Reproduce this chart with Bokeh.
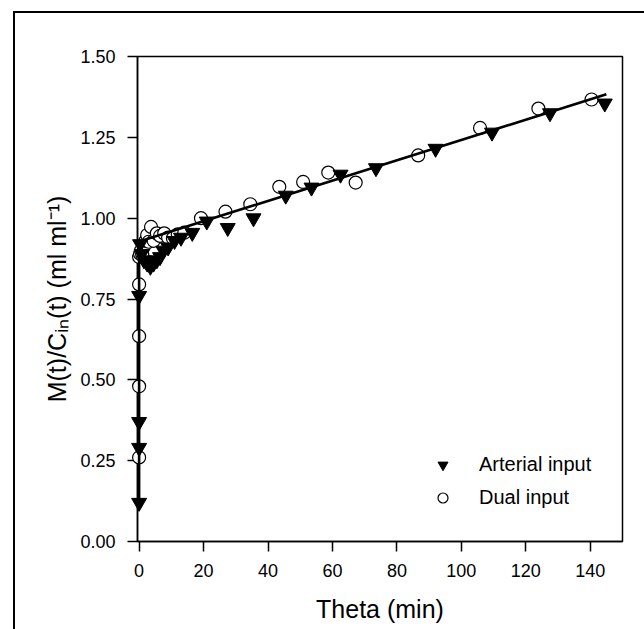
from bokeh.plotting import figure
from bokeh.models import (Range1d, FixedTicker, PrintfTickFormatter, Legend,
                          LegendItem, InlineStyleSheet)
from bokeh.embed import file_html
from bokeh.resources import INLINE

# ---- data ----
arterial_theta = [0, 0, 0, 0, 0.3, 0.8, 1.5, 2.5, 3.5, 4.5, 5.5, 6.5, 7.5, 9,
                  11, 13, 16.5, 21, 27.5, 35.5, 45.5, 53.5, 62.5, 73.5, 92,
                  109.5, 127.5, 144.5]
arterial_value = [0.12, 0.29, 0.37, 0.76, 0.92, 0.89, 0.87, 0.86, 0.85, 0.86,
                  0.87, 0.88, 0.90, 0.91, 0.93, 0.94, 0.955, 0.99, 0.97, 1.00,
                  1.07, 1.095, 1.135, 1.155, 1.215, 1.265, 1.325, 1.355]

dual_theta = [0, 0, 0, 0, 0, 0.3, 0.6, 1.0, 1.5, 2, 2.5, 3, 3.7, 4.5, 5.5, 6.5,
              7.8, 9, 10.5, 12, 14, 19.2, 26.8, 34.5, 43.5, 50.9, 58.7, 67.2,
              86.6, 105.8, 123.9, 140.4]
dual_value = [0.26, 0.48, 0.635, 0.795, 0.88, 0.89, 0.90, 0.885, 0.912, 0.93,
              0.948, 0.927, 0.973, 0.93, 0.953, 0.945, 0.953, 0.94, 0.938, 0.95,
              0.955, 1.0, 1.02, 1.043, 1.097, 1.112, 1.141, 1.11, 1.194, 1.279,
              1.339, 1.367]

fit_theta = [0, 0, 145]
fit_value = [0.12, 0.928, 1.383]

x_ticks = [0, 20, 40, 60, 80, 100, 120, 140]
y_ticks = [0.0, 0.25, 0.50, 0.75, 1.00, 1.25, 1.50]

x_title = "Theta (min)"
y_title = "M(t)/C\u1d62\u2099(t) (ml ml\u207b\u00b9)"
series_names = ["Arterial input", "Dual input"]

FONT = "Liberation Sans"

page_frame = InlineStyleSheet(css="""
:host::before {
  content: "";
  position: absolute;
  left: 13px;
  top: 11px;
  width: calc(100% - 13px);
  height: calc(100% - 11px);
  border-left: 2.5px solid black;
  border-top: 2.5px solid black;
  box-sizing: border-box;
  pointer-events: none;
  z-index: 10;
}
""")

p = figure(width=644, height=629, output_backend="svg", toolbar_location=None,
           x_range=Range1d(-0.5, 150), y_range=Range1d(0, 1.5),
           min_border_left=137, min_border_right=22,
           min_border_top=56, min_border_bottom=88)
p.stylesheets = [page_frame]

p.grid.visible = False
p.background_fill_color = "white"
p.border_fill_color = "white"
p.outline_line_color = "black"
p.outline_line_width = 1.5
p.outline_line_alpha = 1.0

p.xaxis.ticker = FixedTicker(ticks=x_ticks)
p.yaxis.ticker = FixedTicker(ticks=y_ticks)
p.yaxis.formatter = PrintfTickFormatter(format="%.2f")

for ax in (p.xaxis[0], p.yaxis[0]):
    ax.axis_line_color = "black"
    ax.axis_line_width = 1.5
    ax.major_tick_line_color = "black"
    ax.major_tick_line_width = 1.5
    ax.major_tick_out = 10
    ax.major_tick_in = 0
    ax.minor_tick_out = 0
    ax.minor_tick_in = 0
    ax.major_label_text_font = FONT
    ax.major_label_text_font_size = "18px"
    ax.major_label_text_color = "black"
    ax.axis_label_text_font = FONT
    ax.axis_label_text_font_size = "25px"
    ax.axis_label_text_font_style = "normal"
    ax.axis_label_text_color = "black"

p.xaxis.axis_label = x_title
p.yaxis.axis_label = y_title
p.xaxis.major_label_standoff = 12
p.xaxis.axis_label_standoff = 15
p.yaxis.major_label_standoff = 12
p.yaxis.axis_label_standoff = 6

circ = p.scatter(dual_theta, dual_value, marker="circle", size=13,
                 fill_color="white", line_color="black", line_width=1.2,
                 level="overlay")
p.line(fit_theta, fit_value, line_color="black", line_width=2.6, level="overlay")
tri = p.scatter(arterial_theta, arterial_value, marker="inverted_triangle",
                size=15, fill_color="black", line_color="black",
                level="overlay")

legend = Legend(items=[LegendItem(label=series_names[0], renderers=[tri]),
                       LegendItem(label=series_names[1], renderers=[circ])],
                location=(293, 31), padding=0, margin=0, spacing=8,
                glyph_width=25, glyph_height=25, label_standoff=24,
                label_text_font=FONT, label_text_font_size="20px",
                label_text_color="black", border_line_alpha=0,
                background_fill_alpha=0)
p.add_layout(legend)

open("out.html", "w").write(file_html(p, INLINE))
